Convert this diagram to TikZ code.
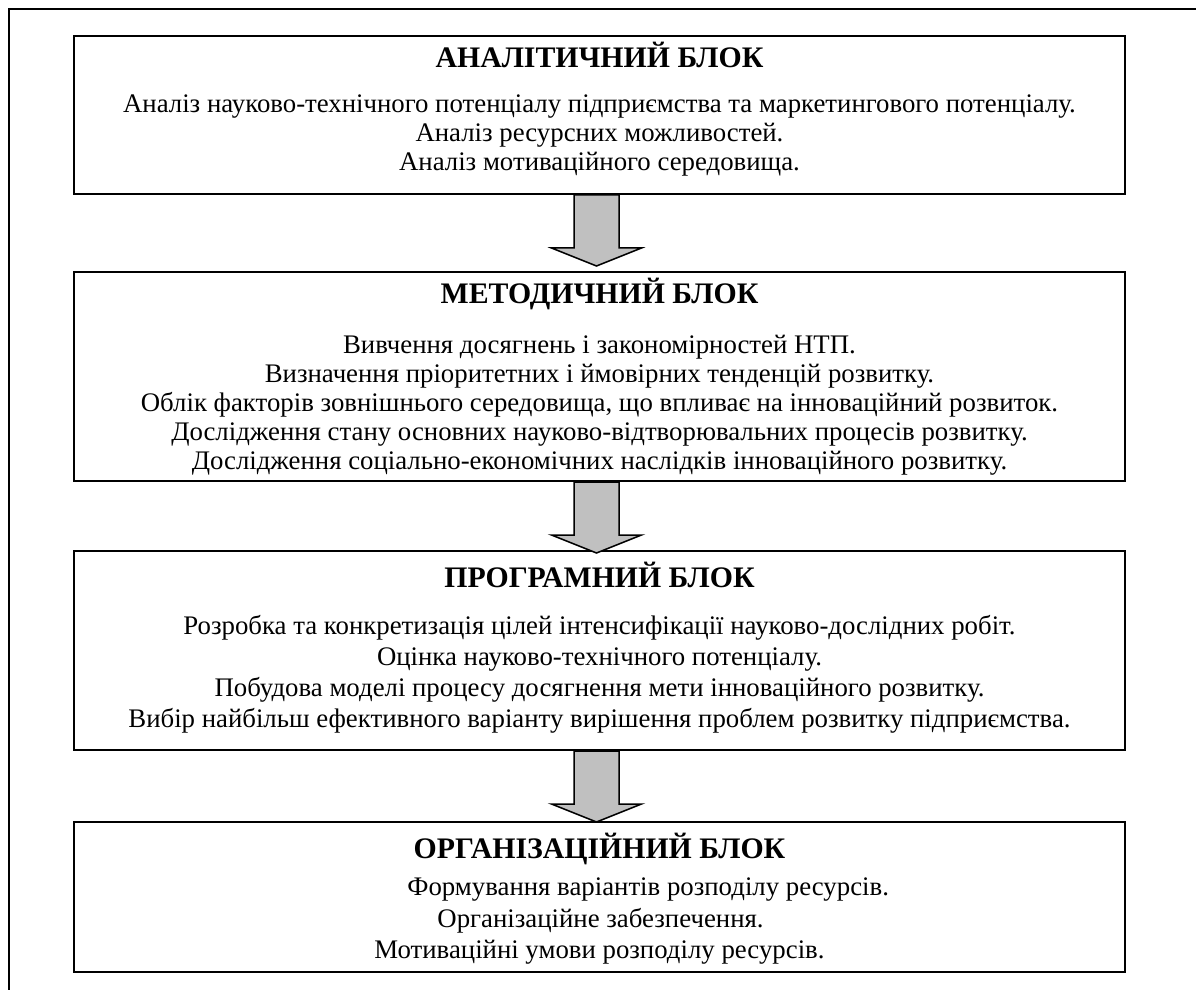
\documentclass[tikz,border=0pt]{standalone}
\usepackage{fontspec}
\setmainfont{Liberation Serif}
\usetikzlibrary{calc}
\definecolor{arrowgray}{HTML}{C0C0C0}
\begin{document}
\begin{tikzpicture}[x=0.5pt,y=-0.5pt,
  box/.style={draw, line width=1pt, inner sep=0, minimum width=525.5pt},
  ttl/.style={font=\fontsize{14.9}{16}\selectfont\bfseries, anchor=base, inner sep=0},
  txt/.style={font=\fontsize{13.4}{15}\selectfont, anchor=base, inner sep=0},
  bigarrow/.style={draw, line width=0.75pt, fill=arrowgray, line join=miter}]
\useasboundingbox (0,0) rectangle (1196,990);
\clip (0,0) rectangle (1196,990);
\draw[line width=1pt] (1210,9.5) -- (8.5,9.5) -- (8.5,1010);

\node[box, minimum height=79pt] (b1) at (599.5,115) {};
\node[box, minimum height=104.5pt] (b2) at (599.5,376.5) {};
\node[box, minimum height=99.5pt] (b3) at (599.5,650.5) {};
\node[box, minimum height=75pt] (b4) at (599.5,897) {};

\foreach \s in {b1,b2,b3}{
  \draw[bigarrow] ($(\s.south)+(-25.5,0)$) -- ($(\s.south)+(-25.5,53)$) -- ($(\s.south)+(-48,53)$)
    -- ($(\s.south)+(-3,71)$) -- ($(\s.south)+(42,53)$) -- ($(\s.south)+(19.5,53)$)
    -- ($(\s.south)+(19.5,0)$) -- cycle;
}

\node[ttl] (t1) at (599.5,68) {АНАЛІТИЧНИЙ БЛОК};
\node[txt] (t1a) at (599.5,113) {Аналіз науково-технічного потенціалу підприємства та маркетингового потенціалу.};
\node[txt] (t1b) at (599.5,142) {Аналіз ресурсних можливостей.};
\node[txt] (t1c) at (599.5,171) {Аналіз мотиваційного середовища.};

\node[ttl] (t2) at (599.5,304) {МЕТОДИЧНИЙ БЛОК};
\node[txt] (t2a) at (599.5,353) {Вивчення досягнень і закономірностей НТП.};
\node[txt] (t2b) at (599.5,382) {Визначення пріоритетних і ймовірних тенденцій розвитку.};
\node[txt] (t2c) at (599.5,411) {Облік факторів зовнішнього середовища, що впливає на інноваційний розвиток.};
\node[txt] (t2d) at (599.5,440) {Дослідження стану основних науково-відтворювальних процесів розвитку.};
\node[txt] (t2e) at (599.5,469) {Дослідження соціально-економічних наслідків інноваційного розвитку.};

\node[ttl] (t3) at (599.5,587) {ПРОГРАМНИЙ БЛОК};
\node[txt] (t3a) at (599.5,634) {Розробка та конкретизація цілей інтенсифікації науково-дослідних робіт.};
\node[txt] (t3b) at (599.5,665) {Оцінка науково-технічного потенціалу.};
\node[txt] (t3c) at (599.5,696) {Побудова моделі процесу досягнення мети інноваційного розвитку.};
\node[txt] (t3d) at (599.5,727) {Вибір найбільш ефективного варіанту вирішення проблем розвитку підприємства.};

\node[ttl] (t4) at (599.5,858) {ОРГАНІЗАЦІЙНИЙ БЛОК};
\node[txt, anchor=base west] (t4a) at (407,895) {Формування варіантів розподілу ресурсів.};
\node[txt, anchor=base west] (t4b) at (437,927) {Організаційне забезпечення.};
\node[txt] (t4c) at (599.5,958) {Мотиваційні умови розподілу ресурсів.};
\end{tikzpicture}
\end{document}
